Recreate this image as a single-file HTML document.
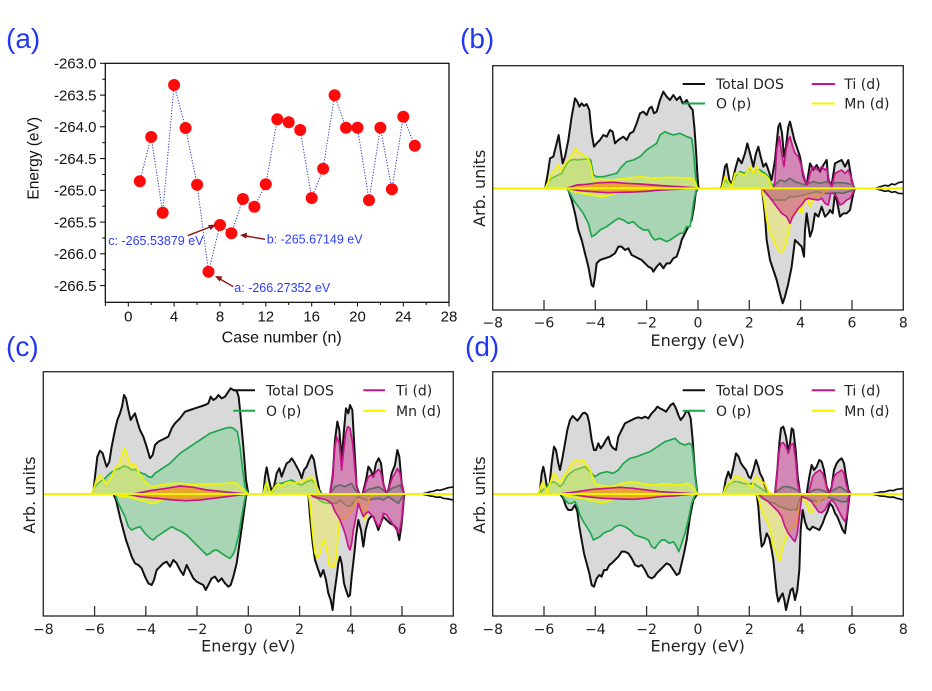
<!DOCTYPE html>
<html><head><meta charset="utf-8"><style>
html,body{margin:0;padding:0;background:#fff;}
svg{display:block;}
.tot{fill:#d9d9d9;stroke:#111;stroke-width:6;stroke-linejoin:round}
.op{fill:#a9d5b5;stroke:#1ea64b;stroke-width:5;stroke-linejoin:round}
.mn{fill:rgba(248,242,50,0.38);stroke:#f4f400;stroke-width:5;stroke-linejoin:round}
.ti{fill:rgba(199,21,133,0.42);stroke:#c4168a;stroke-width:5;stroke-linejoin:round}
.tiv{fill:rgba(240,150,30,0.8);stroke:#c4168a;stroke-width:5;stroke-linejoin:round}
.tail{fill:none;stroke:#111;stroke-width:5;stroke-linejoin:round}
.org{fill:#f6a01a;opacity:0.6}
.dv{font-family:"DejaVu Sans","Liberation Sans",sans-serif;fill:#222;}
.ls{font-family:"Liberation Sans",Arial,sans-serif;fill:#111;}
.pl{font-family:"Liberation Sans",Arial,sans-serif;fill:#2138f2;font-size:28px;}
.an{font-family:"Liberation Sans",Arial,sans-serif;fill:#2a3cff;font-size:12.5px;}
</style></head><body>
<svg width="932" height="691" viewBox="0 0 932 691" xmlns="http://www.w3.org/2000/svg">
<rect width="932" height="691" fill="#fff"/>

<text class="pl" x="6" y="48">(a)</text>
<text class="pl" x="460" y="48">(b)</text>
<text class="pl" x="6" y="356">(c)</text>
<text class="pl" x="465" y="356">(d)</text>

<!-- ============ PANEL (a) ============ -->
<g>
<rect x="105.3" y="63.3" width="343.7" height="239" fill="none" stroke="#000" stroke-width="1.2"/>
<g stroke="#000" stroke-width="1">
<line x1="100" y1="63.3" x2="105.3" y2="63.3"/><line x1="100" y1="95.1" x2="105.3" y2="95.1"/>
<line x1="100" y1="126.8" x2="105.3" y2="126.8"/><line x1="100" y1="158.6" x2="105.3" y2="158.6"/>
<line x1="100" y1="190.3" x2="105.3" y2="190.3"/><line x1="100" y1="222.1" x2="105.3" y2="222.1"/>
<line x1="100" y1="253.8" x2="105.3" y2="253.8"/><line x1="100" y1="285.6" x2="105.3" y2="285.6"/>
<line x1="102.3" y1="79.2" x2="105.3" y2="79.2"/><line x1="102.3" y1="111" x2="105.3" y2="111"/>
<line x1="102.3" y1="142.7" x2="105.3" y2="142.7"/><line x1="102.3" y1="174.5" x2="105.3" y2="174.5"/>
<line x1="102.3" y1="206.2" x2="105.3" y2="206.2"/><line x1="102.3" y1="238" x2="105.3" y2="238"/>
<line x1="102.3" y1="269.7" x2="105.3" y2="269.7"/>
<line x1="105.4" y1="302.3" x2="105.4" y2="306"/><line x1="128.3" y1="302.3" x2="128.3" y2="306.5"/>
<line x1="151.2" y1="302.3" x2="151.2" y2="305"/><line x1="174.1" y1="302.3" x2="174.1" y2="306.5"/>
<line x1="197.1" y1="302.3" x2="197.1" y2="305"/><line x1="220" y1="302.3" x2="220" y2="306.5"/>
<line x1="242.9" y1="302.3" x2="242.9" y2="305"/><line x1="265.8" y1="302.3" x2="265.8" y2="306.5"/>
<line x1="288.7" y1="302.3" x2="288.7" y2="305"/><line x1="311.7" y1="302.3" x2="311.7" y2="306.5"/>
<line x1="334.6" y1="302.3" x2="334.6" y2="305"/><line x1="357.5" y1="302.3" x2="357.5" y2="306.5"/>
<line x1="380.4" y1="302.3" x2="380.4" y2="305"/><line x1="403.3" y1="302.3" x2="403.3" y2="306.5"/>
<line x1="426.2" y1="302.3" x2="426.2" y2="305"/><line x1="449" y1="302.3" x2="449" y2="306.5"/>
</g>
<g class="ls" font-size="15" text-anchor="end">
<text x="96.5" y="68.5">-263.0</text><text x="96.5" y="100.3">-263.5</text>
<text x="96.5" y="132">-264.0</text><text x="96.5" y="163.8">-264.5</text>
<text x="96.5" y="195.5">-265.0</text><text x="96.5" y="227.3">-265.5</text>
<text x="96.5" y="259">-266.0</text><text x="96.5" y="290.8">-266.5</text>
</g>
<g class="ls" font-size="15" text-anchor="middle">
<text x="128.3" y="321.7">0</text><text x="174.1" y="321.7">4</text><text x="220" y="321.7">8</text>
<text x="265.8" y="321.7">12</text><text x="311.7" y="321.7">16</text><text x="357.5" y="321.7">20</text>
<text x="403.3" y="321.7">24</text><text x="449" y="321.7">28</text>
</g>
<text class="ls" font-size="16" text-anchor="middle" x="281.7" y="342.7">Case number (n)</text>
<text class="ls" font-size="15.5" text-anchor="middle" transform="translate(38.5,158.3) rotate(-90)">Energy (eV)</text>

<polyline fill="none" stroke="#2a35c8" stroke-width="1" stroke-dasharray="1.2 1.6" points="139.8,181.3 151.2,137 162.7,212.7 174.1,85 185.6,128 197.1,184.7 208.5,271.7 220,225 231.4,233.3 242.9,199 254.4,206.7 265.8,184.3 277.3,119.3 288.7,122.3 300.2,130 311.7,198 323.1,168.7 334.6,95.3 346,127.7 357.5,127.7 369,200.3 380.4,127.7 391.9,189.3 403.3,116.7 414.8,145.7"/>
<g fill="#ff0a0a">
<circle cx="139.8" cy="181.3" r="6"/><circle cx="151.2" cy="137" r="6"/><circle cx="162.7" cy="212.7" r="6"/>
<circle cx="174.1" cy="85" r="6"/><circle cx="185.6" cy="128" r="6"/><circle cx="197.1" cy="184.7" r="6"/>
<circle cx="208.5" cy="271.7" r="6"/><circle cx="220" cy="225" r="6"/><circle cx="231.4" cy="233.3" r="6"/>
<circle cx="242.9" cy="199" r="6"/><circle cx="254.4" cy="206.7" r="6"/><circle cx="265.8" cy="184.3" r="6"/>
<circle cx="277.3" cy="119.3" r="6"/><circle cx="288.7" cy="122.3" r="6"/><circle cx="300.2" cy="130" r="6"/>
<circle cx="311.7" cy="198" r="6"/><circle cx="323.1" cy="168.7" r="6"/><circle cx="334.6" cy="95.3" r="6"/>
<circle cx="346" cy="127.7" r="6"/><circle cx="357.5" cy="127.7" r="6"/><circle cx="369" cy="200.3" r="6"/>
<circle cx="380.4" cy="127.7" r="6"/><circle cx="391.9" cy="189.3" r="6"/><circle cx="403.3" cy="116.7" r="6"/>
<circle cx="414.8" cy="145.7" r="6"/>
</g>
<g stroke="#8b1515" stroke-width="1.4" fill="#8b1515">
<line x1="187.7" y1="235.7" x2="210" y2="227"/>
<polygon points="216.5,224.5 208,225 210.5,230" stroke="none"/>
<line x1="265" y1="239.3" x2="246" y2="236"/>
<polygon points="240,235 247,232.8 246.3,238.6" stroke="none"/>
<line x1="233.3" y1="286.7" x2="220" y2="279"/>
<polygon points="215,276 222.5,276.5 219.5,281.5" stroke="none"/>
</g>
<text class="an" x="108.3" y="245">c: -265.53879 eV</text>
<text class="an" x="266.7" y="243.3">b: -265.67149 eV</text>
<text class="an" x="234.3" y="292">a: -266.27352 eV</text>
</g>

<!-- ============ PANEL (b) ============ -->
<g transform="translate(460,0) scale(0.333333)">
<path class="tot" d="M255,565 260,540 265,510 270,475 280,470 290,430 296,405 302,450 308,490 315,470 325,420 335,350 345,295 352,305 358,320 365,310 372,318 380,312 388,330 395,400 402,440 410,430 420,420 430,405 440,410 450,390 458,395 465,430 475,420 490,410 500,420 510,400 520,395 530,370 540,340 550,335 560,345 568,325 575,320 582,340 590,335 600,300 610,275 620,290 630,300 640,285 650,300 660,290 668,310 675,305 680,300 690,320 698,330 703,380 708,450 712,520 715,560 718,565Z"/>
<path class="tot" d="M780,565 785,560 795,500 800,492 808,540 815,555 825,510 835,475 845,490 855,460 862,430 870,460 880,500 888,460 895,440 902,470 910,500 918,490 925,510 935,540 945,480 955,380 960,370 966,400 972,470 978,440 985,380 990,365 996,390 1003,420 1010,440 1020,470 1030,530 1040,555 1050,490 1060,510 1070,495 1080,515 1090,495 1100,480 1105,540 1115,555 1125,490 1135,485 1145,480 1155,500 1165,480 1175,540 1182,565Z"/>
<path class="tot" d="M320,565 325,570 335,600 345,640 355,690 365,720 375,760 385,800 395,855 400,860 405,830 410,790 420,780 435,775 450,770 465,760 475,740 485,740 495,750 505,745 515,765 525,770 535,775 545,780 555,790 565,800 575,805 580,815 590,800 600,790 610,805 620,790 630,790 640,775 650,770 660,740 665,720 675,700 685,680 695,660 702,620 707,580 712,565Z"/>
<path class="tot" d="M905,565 910,600 915,650 920,720 930,780 940,810 950,840 960,880 968,910 975,890 985,850 995,800 1000,760 1005,720 1015,730 1025,740 1032,770 1035,690 1040,640 1050,710 1057,690 1065,640 1075,650 1085,620 1095,650 1105,640 1110,630 1118,640 1125,580 1130,600 1140,650 1150,640 1160,640 1170,630 1180,580 1185,565Z"/>
<path class="op" d="M255,565 265,545 275,535 285,530 295,525 305,520 315,500 325,485 335,480 345,478 355,480 365,478 375,478 385,475 392,480 400,525 410,530 430,530 450,525 470,520 485,500 500,485 520,480 540,470 560,450 575,440 590,430 600,405 615,395 625,400 640,405 660,400 680,410 695,415 700,450 705,510 710,560 715,565Z"/>
<path class="op" d="M785,565 795,540 805,550 815,555 825,530 840,515 855,520 870,505 880,520 890,505 900,510 915,520 925,530 935,555 945,555 960,540 975,545 990,535 1005,545 1020,550 1035,555 1045,550 1060,545 1080,550 1100,545 1115,555 1125,548 1140,548 1160,550 1180,555 1185,565Z"/>
<path class="op" d="M320,565 330,580 340,600 355,620 370,640 385,670 395,710 405,705 420,690 440,680 460,665 475,655 490,660 505,670 520,665 535,680 550,690 565,690 575,710 585,720 600,715 610,720 620,725 630,720 645,710 660,700 670,700 680,680 690,680 695,650 702,600 710,565Z"/>
<path class="op" d="M905,565 920,585 940,600 960,600 975,600 990,590 1010,590 1030,585 1050,580 1070,575 1090,580 1110,580 1130,578 1150,580 1180,570 1185,565Z"/>
<path class="mn" d="M255,565 265,545 275,520 285,510 295,495 302,510 310,500 320,485 330,475 340,460 347,445 355,460 365,460 375,470 385,475 392,495 400,540 420,538 460,540 500,535 540,530 580,535 620,532 660,533 695,535 705,545 712,565Z"/>
<path class="mn" d="M785,565 795,530 805,545 815,560 825,520 840,520 855,525 870,500 880,520 890,500 900,520 915,525 925,535 935,560 940,565Z"/>
<path class="mn" d="M320,565 340,575 360,578 380,583 400,585 420,590 440,588 460,582 480,575 500,573 540,572 580,570 620,568 690,566 700,565Z"/>
<path class="mn" d="M905,565 912,600 920,660 930,700 940,720 950,740 958,755 968,755 975,740 985,700 993,660 1000,640 1010,635 1020,625 1025,640 1035,600 1040,585 1045,605 1050,620 1058,600 1065,590 1075,590 1085,585 1095,575 1105,568 1115,565Z"/>
<path class="tiv" d="M320,565 350,555 380,553 420,548 460,547 500,550 540,552 580,555 620,558 660,560 700,563 710,565Z"/>
<path class="ti" d="M940,565 945,540 950,450 958,410 965,460 972,500 978,450 985,420 990,410 998,440 1005,460 1015,470 1025,500 1035,540 1042,555 1050,520 1058,500 1065,505 1075,510 1085,500 1095,510 1100,505 1108,545 1115,560 1125,520 1135,515 1145,510 1155,520 1165,510 1175,535 1182,565Z"/>
<path class="tiv" d="M320,565 360,572 400,575 440,578 480,577 520,576 560,574 600,570 660,567 700,565Z"/>
<path class="ti" d="M905,565 920,580 935,600 950,620 965,640 980,650 990,670 998,650 1005,640 1015,625 1025,615 1035,600 1045,595 1060,598 1075,600 1085,595 1095,610 1105,615 1112,580 1120,580 1130,590 1140,615 1150,610 1160,600 1170,595 1178,580 1185,565Z"/>
<path class="tail" d="M1245,565 1255,562 1265,559 1275,556 1285,558 1295,552 1305,554 1315,548 1330,545"/>
<path class="tail" d="M1245,565 1255,568 1265,571 1275,574 1285,572 1295,577 1305,575 1315,580 1330,581"/>
<line x1="98" y1="565" x2="1330" y2="565" stroke="#f4f400" stroke-width="6"/>
</g>
<g>
<rect x="492.7" y="65.7" width="410.6" height="244.3" fill="none" stroke="#333" stroke-width="1.4"/>
<g stroke="#333" stroke-width="1.3">
<line x1="544" y1="310" x2="544" y2="300"/><line x1="595.3" y1="310" x2="595.3" y2="300"/>
<line x1="646.6" y1="310" x2="646.6" y2="300"/><line x1="698" y1="310" x2="698" y2="300"/>
<line x1="749.3" y1="310" x2="749.3" y2="300"/><line x1="800.6" y1="310" x2="800.6" y2="300"/>
<line x1="852" y1="310" x2="852" y2="300"/>
</g>
<g class="dv" font-size="14" text-anchor="middle">
<text x="492.7" y="327.7">−8</text><text x="544" y="327.7">−6</text><text x="595.3" y="327.7">−4</text>
<text x="646.6" y="327.7">−2</text><text x="698" y="327.7">0</text><text x="749.3" y="327.7">2</text>
<text x="800.6" y="327.7">4</text><text x="852" y="327.7">6</text><text x="903.3" y="327.7">8</text>
</g>
<text class="dv" font-size="16" text-anchor="middle" x="697.7" y="346">Energy (eV)</text>
<text class="dv" font-size="16" text-anchor="middle" transform="translate(485,188.3) rotate(-90)">Arb. units</text>
<line x1="682.7" y1="84" x2="705" y2="84" stroke="#111" stroke-width="2"/>
<line x1="682.7" y1="103.5" x2="705" y2="103.5" stroke="#1ea64b" stroke-width="2"/>
<line x1="811.7" y1="84" x2="835" y2="84" stroke="#c4168a" stroke-width="2"/>
<line x1="811.7" y1="103.5" x2="835" y2="103.5" stroke="#f4f400" stroke-width="2"/>
<g class="dv" font-size="14">
<text x="716" y="89">Total DOS</text><text x="716" y="108.7">O (p)</text>
<text x="844.3" y="89">Ti (d)</text><text x="844.3" y="108.7">Mn (d)</text>
</g>
</g>

<!-- ============ PANEL (c) ============ -->
<g transform="translate(0,330) scale(0.333333)">
<path class="tot" d="M275,492 280,485 285,440 292,380 300,362 308,370 315,395 320,410 328,395 335,350 345,300 352,270 360,250 366,230 372,195 378,205 385,240 392,270 398,260 405,250 412,275 420,300 430,320 440,350 450,385 458,375 465,345 475,335 485,330 495,325 505,320 515,295 525,280 540,265 555,245 570,240 585,235 600,230 615,225 625,220 632,200 640,210 648,205 655,195 665,205 675,200 685,185 692,175 700,180 710,182 716,200 722,260 730,350 738,450 745,492Z"/>
<path class="tot" d="M790,492 795,440 800,412 807,450 815,485 822,470 830,430 838,415 845,440 852,420 860,400 868,395 875,385 882,395 890,410 898,425 905,445 912,420 920,410 928,390 935,375 942,390 950,440 958,480 965,492Z"/>
<path class="tot" d="M990,492 998,440 1005,330 1012,275 1018,300 1025,390 1032,300 1038,235 1045,250 1050,225 1057,240 1063,350 1070,470 1078,492Z"/>
<path class="tot" d="M1088,492 1098,450 1105,410 1112,420 1120,440 1128,400 1136,385 1143,400 1150,460 1158,490 1165,480 1175,430 1185,405 1192,360 1198,380 1205,460 1212,492Z"/>
<path class="tot" d="M340,492 348,510 355,540 362,570 370,600 378,630 385,650 395,680 405,700 415,705 425,715 435,740 445,760 455,765 462,750 470,720 480,710 490,700 500,695 510,710 520,690 530,700 540,720 550,735 560,705 570,725 580,745 590,755 600,760 610,765 617,780 625,765 635,745 645,740 655,755 665,745 675,760 685,770 692,765 700,740 710,700 720,630 730,560 738,500 740,492Z"/>
<path class="tot" d="M925,492 930,560 938,640 945,690 955,720 962,740 970,720 978,750 985,790 992,810 998,840 1003,790 1010,740 1015,700 1020,680 1025,700 1032,760 1038,780 1045,800 1050,795 1055,740 1062,680 1068,620 1075,570 1083,600 1090,650 1097,600 1105,570 1112,560 1120,560 1128,580 1135,600 1142,580 1150,560 1160,570 1170,580 1180,585 1190,595 1198,630 1205,580 1212,500 1214,492Z"/>
<path class="op" d="M275,492 285,470 300,455 315,445 330,430 345,420 360,415 372,408 385,412 395,420 405,418 415,425 425,430 435,432 445,440 455,442 465,430 480,420 495,410 510,400 525,385 540,370 555,360 570,350 585,340 600,330 615,320 630,310 645,305 660,300 675,295 690,292 700,295 712,305 720,350 728,420 735,470 745,492Z"/>
<path class="op" d="M790,492 797,460 805,480 815,488 830,460 845,460 860,455 875,450 890,460 905,465 920,455 935,450 945,460 955,480 965,492Z"/>
<path class="op" d="M990,492 1005,470 1020,465 1035,470 1045,465 1055,460 1065,480 1078,492Z"/>
<path class="op" d="M1088,492 1105,478 1120,475 1135,470 1150,480 1160,490 1175,475 1190,470 1200,465 1212,492Z"/>
<path class="op" d="M345,492 355,520 365,540 375,560 385,590 395,600 405,595 420,590 435,610 450,625 460,630 470,620 485,610 500,600 515,590 530,598 545,605 560,615 575,630 590,645 605,660 620,675 630,670 640,662 650,660 665,670 680,680 690,685 698,675 705,660 715,620 725,560 735,505 738,492Z"/>
<path class="op" d="M930,492 950,505 965,515 980,520 995,520 1010,520 1020,510 1030,520 1045,530 1055,525 1065,510 1075,500 1085,505 1100,510 1115,508 1135,505 1150,510 1165,500 1180,510 1195,520 1212,492Z"/>
<path class="mn" d="M275,492 283,470 290,445 300,435 308,445 318,462 325,455 335,440 343,420 350,410 358,400 365,380 373,355 380,370 387,395 395,410 402,400 408,410 415,425 425,440 435,455 445,465 460,470 480,465 500,462 520,460 540,460 560,462 580,465 600,463 620,462 640,462 660,462 680,460 700,458 712,460 720,470 730,480 745,492Z"/>
<path class="mn" d="M790,492 795,470 800,458 806,475 812,490 825,470 835,460 845,470 855,460 870,455 885,460 900,455 915,450 925,445 935,440 942,450 950,470 960,492Z"/>
<path class="mn" d="M340,492 360,498 380,500 400,505 420,510 440,515 455,520 465,520 480,512 500,505 530,500 560,497 600,495 650,495 700,495 740,492Z"/>
<path class="mn" d="M925,492 930,520 935,580 940,630 945,670 952,685 960,670 968,640 973,630 978,650 982,670 987,705 995,712 1003,710 1010,680 1015,600 1020,565 1030,568 1040,560 1050,550 1060,530 1068,510 1073,508 1080,520 1088,545 1095,570 1100,545 1105,510 1112,500 1125,496 1140,492Z"/>
<path class="tiv" d="M400,492 450,482 500,475 540,468 580,472 620,480 660,484 700,488 740,492Z"/>
<path class="ti" d="M990,492 998,430 1005,350 1010,320 1018,340 1025,420 1030,370 1037,310 1043,290 1050,295 1058,340 1065,420 1072,480 1080,492Z"/>
<path class="ti" d="M1090,492 1098,460 1105,440 1112,435 1118,440 1125,430 1135,418 1142,425 1150,460 1158,490 1168,470 1178,440 1185,430 1192,415 1200,430 1207,470 1212,492Z"/>
<path class="tiv" d="M380,492 420,500 470,505 520,510 560,512 600,510 640,505 680,500 740,492Z"/>
<path class="ti" d="M930,492 940,500 960,505 980,510 995,520 1005,545 1015,560 1020,570 1028,590 1035,610 1045,650 1050,660 1055,640 1060,600 1068,560 1075,520 1082,540 1090,560 1098,550 1105,545 1115,555 1125,570 1135,590 1142,580 1150,550 1160,555 1170,570 1180,585 1190,600 1197,610 1205,570 1212,492Z"/>
<path class="tail" d="M1265,492 1280,489 1290,485 1300,484 1310,480 1320,481 1330,478 1345,473 1360,471"/>
<path class="tail" d="M1265,492 1280,495 1290,498 1300,499 1310,502 1320,501 1330,505 1345,507 1360,510"/>
<line x1="130" y1="492" x2="1360" y2="492" stroke="#f4f400" stroke-width="6"/>
</g>
<g>
<rect x="43.3" y="371.7" width="410" height="244.3" fill="none" stroke="#333" stroke-width="1.4"/>
<g stroke="#333" stroke-width="1.3">
<line x1="94.6" y1="616" x2="94.6" y2="606"/><line x1="145.8" y1="616" x2="145.8" y2="606"/>
<line x1="197" y1="616" x2="197" y2="606"/><line x1="248.3" y1="616" x2="248.3" y2="606"/>
<line x1="299.6" y1="616" x2="299.6" y2="606"/><line x1="350.8" y1="616" x2="350.8" y2="606"/>
<line x1="402" y1="616" x2="402" y2="606"/>
</g>
<g class="dv" font-size="14" text-anchor="middle">
<text x="43.3" y="634">−8</text><text x="94.6" y="634">−6</text><text x="145.8" y="634">−4</text>
<text x="197" y="634">−2</text><text x="248.3" y="634">0</text><text x="299.6" y="634">2</text>
<text x="350.8" y="634">4</text><text x="402" y="634">6</text><text x="453.3" y="634">8</text>
</g>
<text class="dv" font-size="16" text-anchor="middle" x="248.3" y="651.5">Energy (eV)</text>
<text class="dv" font-size="16" text-anchor="middle" transform="translate(35,495) rotate(-90)">Arb. units</text>
<line x1="233.3" y1="390.3" x2="255" y2="390.3" stroke="#111" stroke-width="2"/>
<line x1="233.3" y1="410.7" x2="255" y2="410.7" stroke="#1ea64b" stroke-width="2"/>
<line x1="363.3" y1="390.3" x2="385" y2="390.3" stroke="#c4168a" stroke-width="2"/>
<line x1="363.3" y1="410.7" x2="385" y2="410.7" stroke="#f4f400" stroke-width="2"/>
<g class="dv" font-size="14">
<text x="266" y="395.5">Total DOS</text><text x="266" y="416">O (p)</text>
<text x="396" y="395.5">Ti (d)</text><text x="396" y="416">Mn (d)</text>
</g>
</g>

<!-- ============ PANEL (d) ============ -->
<g transform="translate(460,330) scale(0.333333)">
<path class="tot" d="M235,492 240,480 245,430 250,410 256,440 262,480 268,470 275,400 282,350 288,360 295,400 300,420 308,380 315,340 322,300 330,270 338,258 345,265 352,272 360,262 368,250 375,248 382,255 388,280 395,330 402,360 408,360 415,340 422,355 430,345 438,330 445,320 452,345 460,355 468,360 475,320 485,300 495,280 505,275 515,270 525,265 535,262 545,265 555,260 565,265 575,250 585,240 592,230 600,235 610,240 618,245 625,235 632,225 640,220 648,235 655,255 662,270 670,260 678,245 685,245 692,265 698,330 705,430 712,490 714,492Z"/>
<path class="tot" d="M790,492 797,450 805,425 812,445 820,410 828,370 836,380 843,400 850,410 858,420 866,440 872,445 880,420 888,390 895,410 900,430 908,445 915,470 925,490 930,492Z"/>
<path class="tot" d="M945,492 952,420 958,340 963,295 970,290 978,320 985,365 990,340 995,295 1000,300 1007,360 1013,440 1020,490 1022,492Z"/>
<path class="tot" d="M1040,492 1048,440 1055,405 1062,420 1070,410 1078,390 1085,395 1092,420 1100,470 1108,490 1115,470 1122,420 1130,400 1138,390 1145,385 1152,400 1158,440 1165,480 1172,492Z"/>
<path class="tot" d="M300,492 310,505 318,530 325,540 335,540 345,525 352,545 358,590 365,630 372,670 380,700 388,730 395,765 402,770 410,745 418,735 425,740 432,720 440,720 448,705 455,700 465,690 475,680 485,665 495,665 505,670 515,685 525,705 535,710 545,705 555,720 565,740 575,745 583,740 590,730 600,720 610,710 620,700 630,705 640,720 650,735 658,730 665,700 672,670 680,630 690,560 700,510 712,492Z"/>
<path class="tot" d="M890,492 895,530 900,600 905,650 912,640 920,610 928,625 935,660 940,690 945,740 950,790 955,815 962,800 968,790 973,810 978,840 985,810 992,780 998,775 1005,810 1012,780 1018,720 1022,600 1028,540 1035,575 1042,595 1050,600 1058,590 1068,595 1078,600 1088,580 1095,560 1102,545 1110,520 1118,530 1125,550 1132,560 1140,580 1148,600 1155,610 1160,570 1168,500 1170,492Z"/>
<path class="op" d="M240,492 248,480 260,470 270,460 280,455 290,460 300,470 310,460 320,440 330,430 345,420 360,415 375,410 385,420 395,430 405,440 420,430 440,425 460,430 475,420 490,400 510,385 530,380 550,372 570,365 585,355 600,345 615,335 630,330 645,325 660,340 675,345 688,340 695,345 700,380 705,440 712,490 714,492Z"/>
<path class="op" d="M790,492 800,470 810,460 820,455 835,455 850,460 865,462 880,460 895,470 910,480 925,490 930,492Z"/>
<path class="op" d="M945,492 955,480 970,470 985,470 1000,475 1015,482 1025,492Z"/>
<path class="op" d="M1045,492 1060,480 1075,478 1090,482 1105,490 1120,480 1140,470 1155,480 1170,492Z"/>
<path class="op" d="M305,492 315,510 325,520 335,520 345,515 352,530 360,555 370,575 380,590 392,610 400,630 410,625 420,620 430,610 440,605 455,600 465,590 480,585 495,590 510,600 525,615 540,620 555,625 565,630 575,650 585,655 595,640 605,630 615,630 628,640 640,635 650,650 656,665 662,650 668,630 675,610 685,570 695,520 705,495 707,492Z"/>
<path class="op" d="M890,492 905,505 925,515 945,520 960,530 975,535 990,540 1000,538 1010,540 1018,510 1025,500 1040,505 1055,510 1070,515 1085,510 1100,500 1115,505 1130,510 1145,515 1160,515 1168,492Z"/>
<path class="mn" d="M235,492 242,470 248,455 255,470 262,490 270,460 278,435 285,430 292,445 300,455 310,440 320,425 330,410 340,395 350,392 360,395 370,390 380,405 390,420 398,440 405,460 415,465 430,468 450,470 470,465 490,460 510,455 530,458 550,462 570,465 590,465 610,462 630,462 650,465 665,465 680,460 690,462 700,475 712,490 714,492Z"/>
<path class="mn" d="M790,492 797,470 805,460 815,455 825,440 835,440 845,445 855,450 865,460 875,475 882,450 890,440 898,450 905,455 915,460 925,485 935,492Z"/>
<path class="mn" d="M300,492 330,500 360,505 390,510 410,515 425,518 440,515 460,508 490,502 530,500 570,498 620,496 700,494 712,492Z"/>
<path class="mn" d="M890,492 897,510 905,540 912,560 920,570 928,590 935,620 940,650 948,665 955,690 960,690 965,665 972,640 978,625 985,610 992,595 1000,590 1008,585 1015,555 1020,520 1025,505 1030,510 1040,520 1048,545 1055,548 1062,530 1070,520 1080,510 1090,505 1100,500 1110,492Z"/>
<path class="tiv" d="M300,492 350,485 400,478 440,475 480,472 520,475 560,480 600,485 650,488 700,491 710,492Z"/>
<path class="ti" d="M945,492 952,420 958,360 963,340 970,338 978,350 985,370 992,345 1000,340 1007,390 1013,460 1020,492Z"/>
<path class="ti" d="M1045,492 1052,465 1058,440 1065,430 1072,425 1080,420 1088,430 1095,450 1102,480 1108,492 1115,470 1122,440 1130,430 1138,425 1145,420 1152,430 1158,460 1165,485 1172,492Z"/>
<path class="tiv" d="M330,492 380,500 430,505 480,507 520,508 560,505 600,500 650,497 700,492Z"/>
<path class="ti" d="M895,492 910,505 925,515 940,530 955,545 965,560 975,590 985,610 1000,630 1005,635 1012,610 1018,560 1025,500 1040,505 1055,515 1065,530 1075,545 1085,548 1095,540 1105,520 1115,510 1125,520 1135,540 1145,560 1155,575 1160,560 1168,492Z"/>
<path class="tail" d="M1235,492 1250,489 1260,486 1275,485 1290,481 1300,482 1310,478 1320,477 1330,475"/>
<path class="tail" d="M1235,492 1250,495 1260,498 1275,499 1290,502 1300,501 1310,505 1320,507 1330,510"/>
<line x1="98" y1="492" x2="1330" y2="492" stroke="#f4f400" stroke-width="6"/>
</g>
<g>
<rect x="492.7" y="371.7" width="410.6" height="244.3" fill="none" stroke="#333" stroke-width="1.4"/>
<g stroke="#333" stroke-width="1.3">
<line x1="544" y1="616" x2="544" y2="606"/><line x1="595.3" y1="616" x2="595.3" y2="606"/>
<line x1="646.6" y1="616" x2="646.6" y2="606"/><line x1="698" y1="616" x2="698" y2="606"/>
<line x1="749.3" y1="616" x2="749.3" y2="606"/><line x1="800.6" y1="616" x2="800.6" y2="606"/>
<line x1="852" y1="616" x2="852" y2="606"/>
</g>
<g class="dv" font-size="14" text-anchor="middle">
<text x="492.7" y="634">−8</text><text x="544" y="634">−6</text><text x="595.3" y="634">−4</text>
<text x="646.6" y="634">−2</text><text x="698" y="634">0</text><text x="749.3" y="634">2</text>
<text x="800.6" y="634">4</text><text x="852" y="634">6</text><text x="903.3" y="634">8</text>
</g>
<text class="dv" font-size="16" text-anchor="middle" x="697.7" y="651.5">Energy (eV)</text>
<text class="dv" font-size="16" text-anchor="middle" transform="translate(485,495) rotate(-90)">Arb. units</text>
<line x1="682.7" y1="390.3" x2="705" y2="390.3" stroke="#111" stroke-width="2"/>
<line x1="682.7" y1="410.7" x2="705" y2="410.7" stroke="#1ea64b" stroke-width="2"/>
<line x1="811.7" y1="390.3" x2="835" y2="390.3" stroke="#c4168a" stroke-width="2"/>
<line x1="811.7" y1="410.7" x2="835" y2="410.7" stroke="#f4f400" stroke-width="2"/>
<g class="dv" font-size="14">
<text x="716" y="395.5">Total DOS</text><text x="716" y="416">O (p)</text>
<text x="844.3" y="395.5">Ti (d)</text><text x="844.3" y="416">Mn (d)</text>
</g>
</g>
</svg>
</body></html>
